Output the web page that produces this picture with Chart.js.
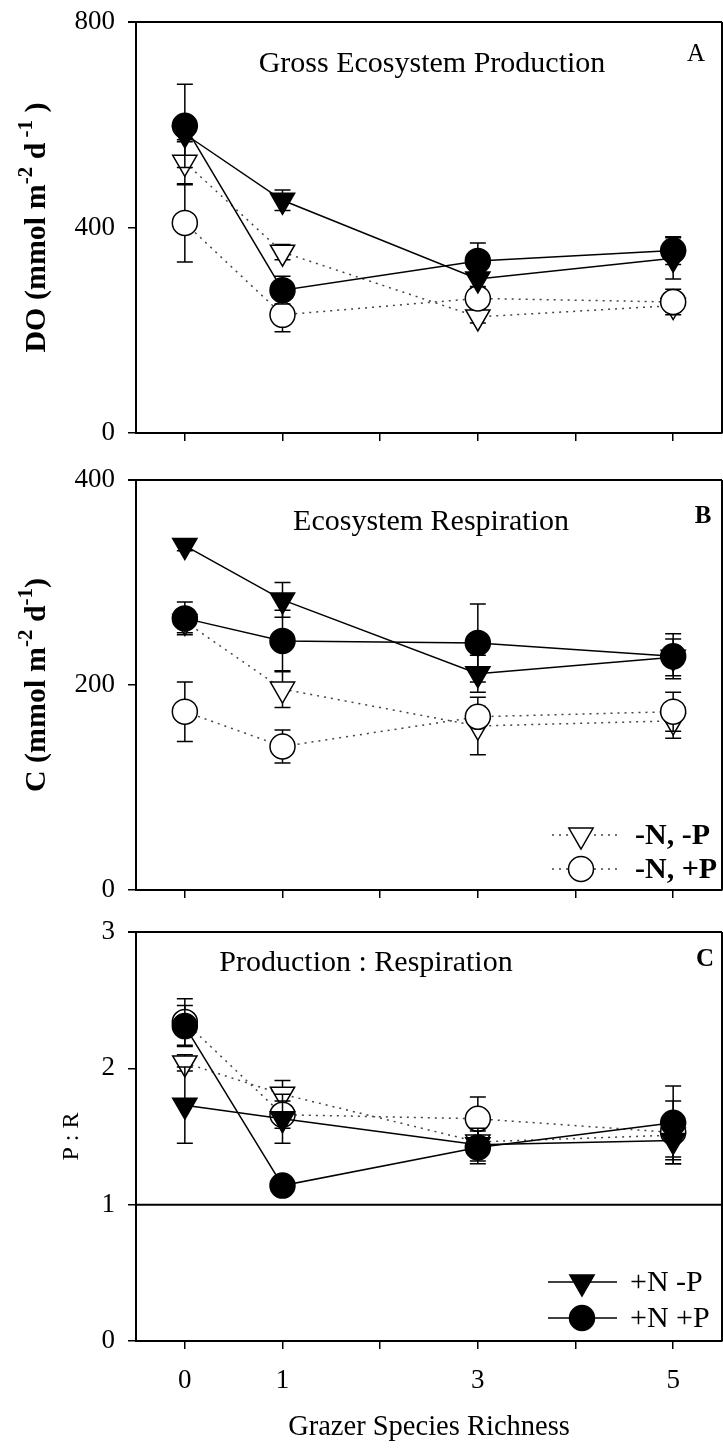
<!DOCTYPE html>
<html>
<head>
<meta charset="utf-8">
<script src="https://cdn.jsdelivr.net/npm/chart.js@4.4.0/dist/chart.umd.min.js"></script>
<style>
  body { margin: 0; background: #fff; width: 723px; height: 1456px; position: relative; overflow: hidden; }
  canvas { position: absolute; left: 0; }
</style>
</head>
<body>
<canvas id="gepChart" width="723" height="460" style="top:0"></canvas>
<canvas id="respChart" width="723" height="450" style="top:460px"></canvas>
<canvas id="prChart" width="723" height="546" style="top:910px"></canvas>
<script>
// grazer species richness levels
const richness = [0, 1, 3, 5];
const xTickValues = [0, 1, 2, 3, 4, 5];
const xTickLabels = ['0', '1', '', '3', '', '5'];

// series order: +N +P, +N -P, -N +P, -N -P
const seriesLabels = ['+N +P', '+N -P', '-N +P', '-N -P'];

// A: gross ecosystem production (DO, mmol m-2 d-1)
const gepPlusNPlusP = [598, 278, 335, 355];
const gepPlusNMinusP = [582, 453, 300, 340];
const gepMinusNPlusP = [409, 230, 262, 255];
const gepMinusNMinusP = [527, 352, 226, 248];
const gepPlusNPlusPErr = [81, 27, 35, 27];
const gepPlusNMinusPErr = [15, 20, 15, 40];
const gepMinusNPlusPErr = [76, 33, 20, 25];
const gepMinusNMinusPErr = [44, 15, 12, 12];

// B: ecosystem respiration (C, mmol m-2 d-1)
const respPlusNPlusP = [265, 243, 241, 228];
const respPlusNMinusP = [336, 283, 211, 227];
const respMinusNPlusP = [174, 140, 169, 174];
const respMinusNMinusP = [262, 196, 160, 165];
const respPlusNPlusPErr = [16, 30, 38, 22];
const respPlusNMinusPErr = [5, 17, 18, 18];
const respMinusNPlusPErr = [29, 16, 10, 19];
const respMinusNMinusPErr = [11, 18, 28, 17];

// C: production : respiration
const prPlusNPlusP = [2.31, 1.14, 1.42, 1.60];
const prPlusNMinusP = [1.73, 1.63, 1.44, 1.47];
const prMinusNPlusP = [2.34, 1.66, 1.63, 1.53];
const prMinusNMinusP = [2.04, 1.81, 1.46, 1.51];
const prPlusNPlusPErr = [0.15, 0.05, 0.12, 0.27];
const prPlusNMinusPErr = [0.28, 0.18, 0.12, 0.17];
const prMinusNPlusPErr = [0.17, 0.10, 0.16, 0.23];
const prMinusNMinusPErr = [0.06, 0.10, 0.10, 0.16];
const prBalanceLine = 1;

const serif = "'Liberation Serif', 'Times New Roman', serif";
Chart.defaults.font.family = serif;
Chart.defaults.color = '#000';

const seriesStyle = [
  { pointStyle: 'circle', rotation: 0, radius: 12.5, fill: '#000', line: '#000', dash: [] },
  { pointStyle: 'triangle', rotation: 180, radius: 14, fill: '#000', line: '#000', dash: [] },
  { pointStyle: 'circle', rotation: 0, radius: 12.5, fill: '#fff', line: '#444', dash: [2, 5] },
  { pointStyle: 'triangle', rotation: 180, radius: 14, fill: '#fff', line: '#444', dash: [2, 5] }
];

function buildDatasets(values, errors) {
  return values.map((vals, i) => {
    const st = seriesStyle[i];
    return {
      label: seriesLabels[i],
      data: richness.map((r, j) => ({ x: r, y: vals[j] })),
      errors: errors[i],
      borderColor: st.line,
      borderWidth: 1.5,
      borderDash: st.dash,
      pointStyle: st.pointStyle,
      pointRotation: st.rotation,
      pointRadius: st.radius,
      pointHoverRadius: st.radius,
      pointBackgroundColor: st.fill,
      pointBorderColor: '#000',
      pointBorderWidth: 1.5,
      tension: 0,
      fill: false
    };
  });
}

// vertical error bars with caps, drawn just before each series
const errorBars = {
  id: 'errorBars',
  beforeDatasetDraw(chart, args) {
    const ds = chart.data.datasets[args.index];
    if (!ds.errors) return;
    const y = chart.scales.y;
    const ctx = chart.ctx;
    ctx.save();
    ctx.strokeStyle = '#000';
    ctx.lineWidth = 1.5;
    args.meta.data.forEach((pt, i) => {
      const v = ds.data[i].y, e = ds.errors[i];
      const top = y.getPixelForValue(v + e), bot = y.getPixelForValue(v - e);
      ctx.beginPath();
      ctx.moveTo(pt.x, top); ctx.lineTo(pt.x, bot);
      ctx.moveTo(pt.x - 8, top); ctx.lineTo(pt.x + 8, top);
      ctx.moveTo(pt.x - 8, bot); ctx.lineTo(pt.x + 8, bot);
      ctx.stroke();
    });
    ctx.restore();
  }
};

// frame, reference line, panel title/letter, y title with superscripts, legend
const panelDeco = {
  id: 'panelDeco',
  beforeDatasetsDraw(chart, args, opts) {
    const { ctx, chartArea: a } = chart;
    ctx.save();
    ctx.strokeStyle = '#000';
    ctx.lineWidth = 2;
    ctx.beginPath();
    ctx.moveTo(a.left - 8, a.top); ctx.lineTo(a.right, a.top);
    ctx.moveTo(a.right, a.top); ctx.lineTo(a.right, a.bottom);
    if (opts.refLine !== undefined) {
      const py = chart.scales.y.getPixelForValue(opts.refLine);
      ctx.moveTo(a.left, py); ctx.lineTo(a.right, py);
    }
    ctx.stroke();
    ctx.restore();
  },
  afterDraw(chart, args, opts) {
    const { ctx, chartArea: a } = chart;
    ctx.save();
    ctx.fillStyle = '#000';
    ctx.textBaseline = 'alphabetic';
    ctx.textAlign = 'center';
    ctx.font = `30px ${serif}`;
    ctx.fillText(opts.title, opts.titleX, opts.titleY);
    ctx.font = `${opts.letterWeight} 25px ${serif}`;
    ctx.fillText(opts.letter, opts.letterX, opts.letterY);

    // rotated axis title
    const size = opts.yTitleSize;
    const parts = opts.yTitle;
    const fontFor = p => `${opts.yTitleWeight} ${p.sup ? size * 0.7 : size}px ${serif}`;
    let total = 0;
    parts.forEach(p => { ctx.font = fontFor(p); total += ctx.measureText(p.t).width; });
    ctx.translate(opts.yTitleX, (a.top + a.bottom) / 2);
    ctx.rotate(-Math.PI / 2);
    ctx.textAlign = 'left';
    ctx.textBaseline = 'middle';
    let x = -total / 2;
    parts.forEach(p => {
      ctx.font = fontFor(p);
      ctx.fillText(p.t, x, p.sup ? -size * 0.36 : 0);
      x += ctx.measureText(p.t).width;
    });
    ctx.setTransform(1, 0, 0, 1, 0, 0);

    // legend entries
    if (opts.legend) {
      const lg = opts.legend;
      lg.items.forEach((idx, k) => {
        const ds = chart.data.datasets[idx];
        const cy = lg.ys[k];
        ctx.save();
        ctx.strokeStyle = ds.borderColor;
        ctx.lineWidth = 1.5;
        ctx.setLineDash(ds.borderDash);
        ctx.beginPath();
        ctx.moveTo(lg.lineFrom, cy); ctx.lineTo(lg.lineTo, cy);
        ctx.stroke();
        ctx.restore();
        ctx.fillStyle = ds.pointBackgroundColor;
        ctx.strokeStyle = '#000';
        ctx.lineWidth = 1.5;
        Chart.helpers.drawPoint(ctx, {
          pointStyle: ds.pointStyle, rotation: ds.pointRotation,
          radius: ds.pointRadius, borderWidth: 1.5
        }, lg.markerX, cy);
        ctx.fillStyle = '#000';
        ctx.font = `${lg.weight} 30px ${serif}`;
        ctx.textAlign = 'left';
        ctx.textBaseline = 'middle';
        ctx.fillText(lg.texts[k], lg.textX, cy + 1);
      });
    }
    ctx.restore();
  }
};

function drawPanel(id, p) {
  return new Chart(document.getElementById(id), {
    type: 'line',
    data: { datasets: buildDatasets(p.values, p.errors) },
    options: {
      responsive: false,
      animation: false,
      layout: { autoPadding: false, padding: { top: p.top, right: 1, left: 0, bottom: 0 } },
      plugins: {
        legend: { display: false },
        tooltip: { enabled: false },
        panelDeco: p.deco
      },
      scales: {
        x: {
          type: 'linear',
          min: -0.5,
          max: 5.5,
          afterBuildTicks: s => { s.ticks = xTickValues.map(v => ({ value: v })); },
          afterFit: s => { s.height = p.xAxisHeight; s.paddingLeft = 0; s.paddingRight = 0; },
          ticks: {
            display: p.showXLabels,
            font: { size: 27 },
            padding: 16,
            maxRotation: 0,
            callback: v => xTickLabels[xTickValues.indexOf(v)]
          },
          grid: { drawOnChartArea: false, drawTicks: true, tickLength: 8, color: '#000', lineWidth: 1.5 },
          border: { color: '#000', width: 2 },
          title: p.xTitle
        },
        y: {
          min: p.yMin,
          max: p.yMax,
          afterFit: s => { s.width = 136; s.paddingTop = 0; s.paddingBottom = 0; },
          ticks: { stepSize: p.yStep, font: { size: 27 }, padding: 13 },
          grid: { drawOnChartArea: false, drawTicks: true, tickLength: 8, color: '#000', lineWidth: 1.5 },
          border: { color: '#000', width: 2 }
        }
      }
    },
    plugins: [errorBars, panelDeco]
  });
}

drawPanel('gepChart', {
  values: [gepPlusNPlusP, gepPlusNMinusP, gepMinusNPlusP, gepMinusNMinusP],
  errors: [gepPlusNPlusPErr, gepPlusNMinusPErr, gepMinusNPlusPErr, gepMinusNMinusPErr],
  top: 22, xAxisHeight: 27, showXLabels: false,
  yMin: 0, yMax: 800, yStep: 400,
  xTitle: { display: false },
  deco: {
    title: 'Gross Ecosystem Production', titleX: 432, titleY: 72,
    letter: 'A', letterX: 696, letterY: 61, letterWeight: 'normal',
    yTitleX: 37, yTitleSize: 30, yTitleWeight: 'bold',
    yTitle: [{ t: 'DO (mmol m' }, { t: '-2', sup: true }, { t: ' d' }, { t: ' -1', sup: true }, { t: ' )' }]
  }
});

drawPanel('respChart', {
  values: [respPlusNPlusP, respPlusNMinusP, respMinusNPlusP, respMinusNMinusP],
  errors: [respPlusNPlusPErr, respPlusNMinusPErr, respMinusNPlusPErr, respMinusNMinusPErr],
  top: 20, xAxisHeight: 20, showXLabels: false,
  yMin: 0, yMax: 400, yStep: 200,
  xTitle: { display: false },
  deco: {
    title: 'Ecosystem Respiration', titleX: 431, titleY: 70,
    letter: 'B', letterX: 703, letterY: 63, letterWeight: 'bold',
    yTitleX: 37, yTitleSize: 30, yTitleWeight: 'bold',
    yTitle: [{ t: 'C (mmol m' }, { t: '-2', sup: true }, { t: ' d' }, { t: '-1', sup: true }, { t: ')' }],
    legend: {
      items: [3, 2], texts: ['-N, -P', '-N, +P'], ys: [375, 409], weight: 'bold',
      lineFrom: 552, lineTo: 617, markerX: 581, textX: 635
    }
  }
});

drawPanel('prChart', {
  values: [prPlusNPlusP, prPlusNMinusP, prMinusNPlusP, prMinusNMinusP],
  errors: [prPlusNPlusPErr, prPlusNMinusPErr, prMinusNPlusPErr, prMinusNMinusPErr],
  top: 22, xAxisHeight: 115, showXLabels: true,
  yMin: 0, yMax: 3, yStep: 1,
  xTitle: { display: true, text: 'Grazer Species Richness', font: { size: 28.5 }, padding: { top: 0, bottom: 11 } },
  deco: {
    title: 'Production : Respiration', titleX: 366, titleY: 61,
    letter: 'C', letterX: 705, letterY: 56, letterWeight: 'bold',
    yTitleX: 72, yTitleSize: 24, yTitleWeight: 'normal',
    yTitle: [{ t: 'P : R' }],
    refLine: prBalanceLine,
    legend: {
      items: [1, 0], texts: ['+N -P', '+N +P'], ys: [372, 408], weight: 'normal',
      lineFrom: 548, lineTo: 617, markerX: 582, textX: 630
    }
  }
});
</script>
</body>
</html>
